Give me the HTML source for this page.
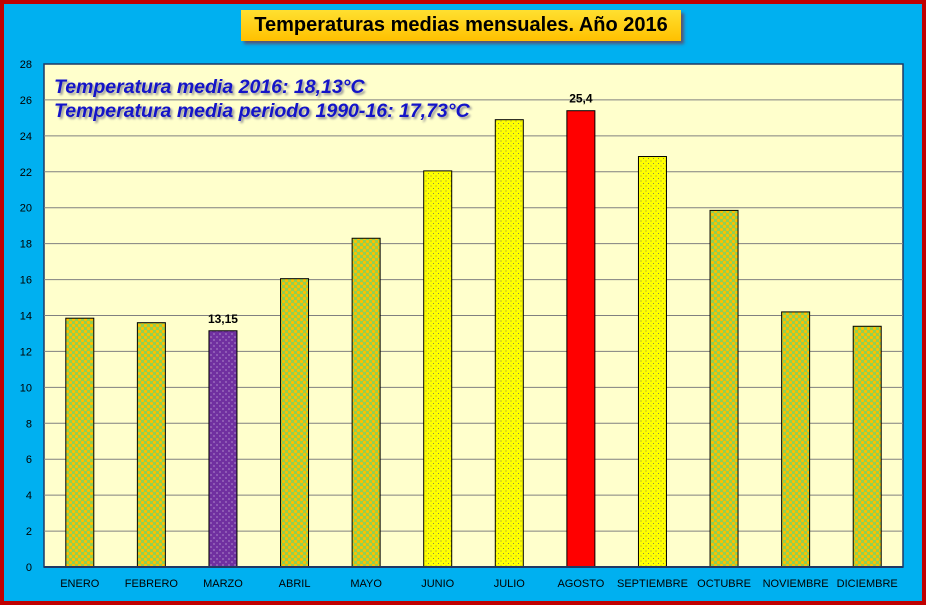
<!DOCTYPE html>
<html><head><meta charset="utf-8"><style>
body{margin:0;width:926px;height:605px;overflow:hidden;font-family:"Liberation Sans",sans-serif}
#frame{position:absolute;left:0;top:0;width:918px;height:597px;background:#00B0F0;border:4px solid #C00000}
#title{position:absolute;left:241px;top:10px;width:440px;height:31px;background:linear-gradient(#FFE030,#FFC000);box-shadow:3px 3px 3px #557;font:bold 20px "Liberation Sans",sans-serif;text-align:center;line-height:31px;color:#000}
</style></head><body>
<div id="frame"></div>
<div id="title">Temperaturas medias mensuales. Año 2016</div>
<svg id="chart" width="926" height="605" style="position:absolute;left:0;top:0">
<defs>
<pattern id="pGreen" width="6" height="6" patternUnits="userSpaceOnUse"><rect width="6" height="6" fill="#92D050"/><circle cx="1.5" cy="1.5" r="1.6" fill="#FFC000"/><circle cx="4.5" cy="4.5" r="1.6" fill="#FFC000"/></pattern>
<pattern id="pYellow" width="5" height="5" patternUnits="userSpaceOnUse"><rect width="5" height="5" fill="#FFFF00"/><circle cx="1" cy="1" r="0.5" fill="#666"/><circle cx="3.5" cy="3.5" r="0.5" fill="#666"/></pattern>
<pattern id="pPurple" width="6" height="6" patternUnits="userSpaceOnUse"><rect width="6" height="6" fill="#7030A0"/><circle cx="1" cy="1" r="0.55" fill="#fff"/><circle cx="4" cy="4" r="0.55" fill="#fff"/></pattern>
</defs>
<g id="g"></g>
</svg>
<script>
const categories=["ENERO","FEBRERO","MARZO","ABRIL","MAYO","JUNIO","JULIO","AGOSTO","SEPTIEMBRE","OCTUBRE","NOVIEMBRE","DICIEMBRE"];
const values=[13.85,13.6,13.15,16.05,18.3,22.05,24.9,25.4,22.85,19.85,14.2,13.4];
const fills=["pGreen","pGreen","pPurple","pGreen","pGreen","pYellow","pYellow","red","pYellow","pGreen","pGreen","pGreen"];
const labels=[null,null,"13,15",null,null,null,null,"25,4",null,null,null,null];
const ticks=[0,2,4,6,8,10,12,14,16,18,20,22,24,26,28];
const X0=44,X1=903,Y0=567,Y1=64,YMAX=28;
const y=v=>Y0-(Y0-Y1)*v/YMAX;
const bw=(X1-X0)/categories.length;
const xc=i=>X0+bw*(i+0.5);
const g=document.getElementById('g');const NS="http://www.w3.org/2000/svg";
function mk(t,a,p){const e=document.createElementNS(NS,t);for(const k in a)e.setAttribute(k,a[k]);(p||g).appendChild(e);return e;}
let e=mk('rect',{x:X0,y:Y1,width:X1-X0,height:Y0-Y1,fill:'#FFFFCC',stroke:'#1F3864','stroke-width':1.5});

ticks.forEach(t=>{
 if(t>0&&t<YMAX){const l=mk('line',{x1:X0,x2:X1,y1:y(t),y2:y(t),stroke:'#808080','stroke-width':1});}
 const tx=mk('text',{x:32,y:y(t)+4,'text-anchor':'end','font-size':11,fill:'#000'});tx.textContent=t;
 
});
categories.forEach((c,i)=>{
 const w=28,h=Y0-y(values[i]);
 const r=mk('rect',{x:xc(i)-w/2,y:y(values[i]),width:w,height:h,fill:fills[i]==='red'?'#FF0000':'url(#'+fills[i]+')',stroke:'#000','stroke-width':1});
 
 const tx=mk('text',{x:xc(i),y:587,'text-anchor':'middle','font-size':11,fill:'#000'});tx.textContent=c;
 
 if(labels[i]){const lb=mk('text',{x:xc(i),y:y(values[i])-8,'text-anchor':'middle','font-size':12,'font-weight':'bold',fill:'#000'});lb.textContent=labels[i];
 }
});
const ax=mk('line',{x1:X0,x2:X1,y1:Y0,y2:Y0,stroke:'#1F3864','stroke-width':2});

[["Temperatura media 2016: 18,13°C",93],["Temperatura media periodo 1990-16: 17,73°C",117]].forEach(([s,yy])=>{
 const t=mk('text',{x:54,y:yy,'font-size':19.5,'font-weight':'bold','font-style':'italic',fill:'#1414C8',style:'text-shadow:2px 2px 2px #999'});t.textContent=s;
 
});
</script>
</body></html>
